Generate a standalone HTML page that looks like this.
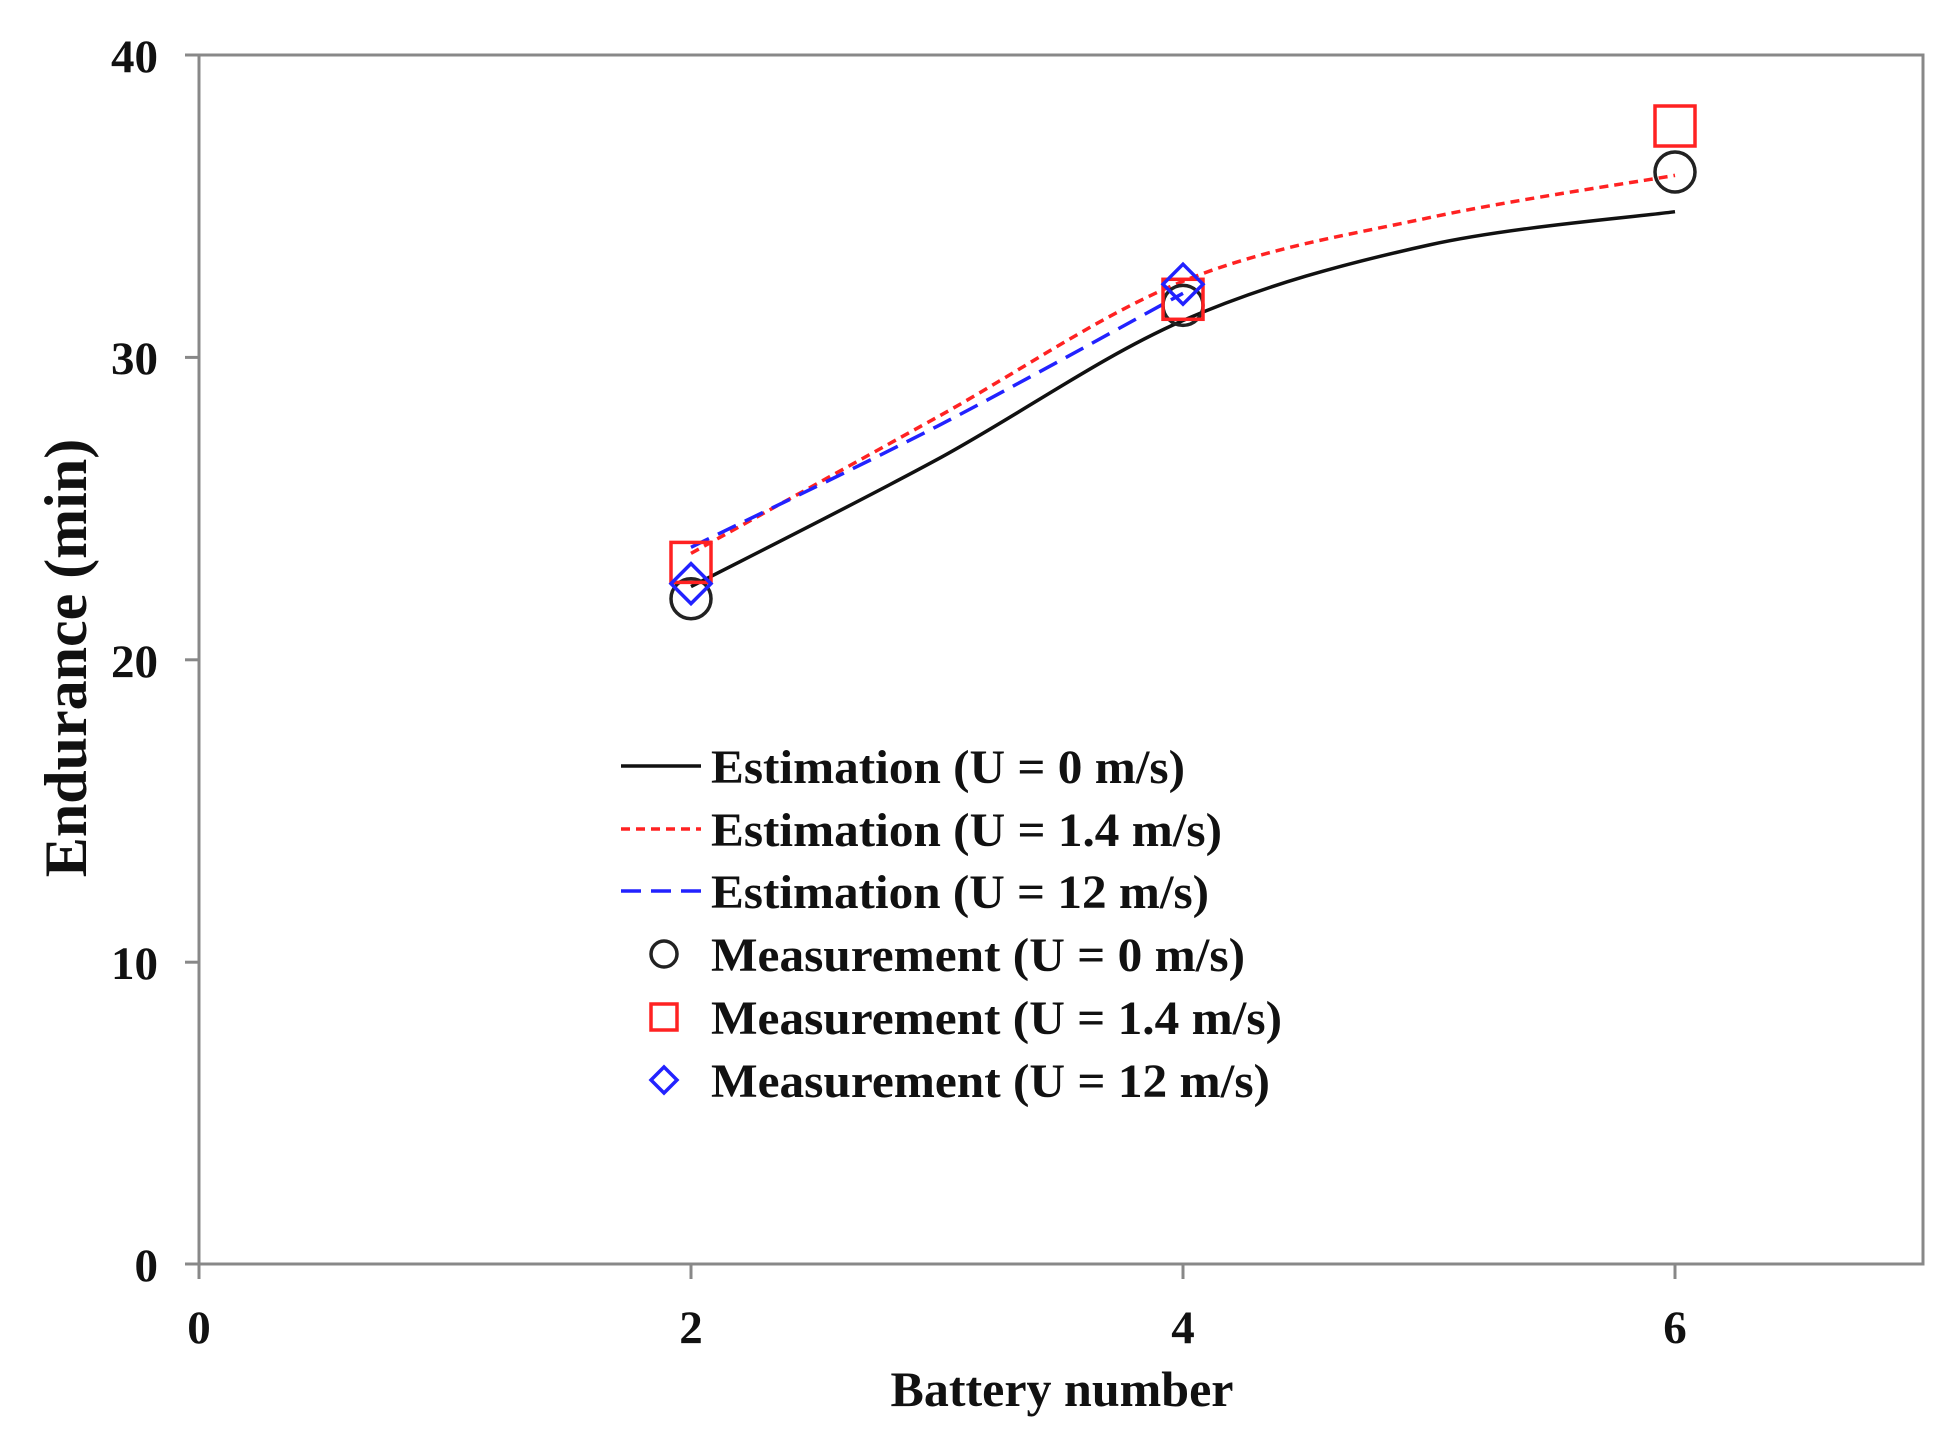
<!DOCTYPE html>
<html><head><meta charset="utf-8"><style>
body{margin:0;background:#fff}
svg{display:block}
text{font-family:"Liberation Serif",serif;font-weight:bold;fill:#111}
</style></head><body>
<svg width="1947" height="1440" viewBox="0 0 1947 1440" xmlns="http://www.w3.org/2000/svg">
<rect x="199" y="55" width="1724" height="1209" fill="none" stroke="#888" stroke-width="3"/>
<g stroke="#888" stroke-width="3">
<line x1="185" y1="55" x2="199" y2="55"/><line x1="185" y1="357.4" x2="199" y2="357.4"/>
<line x1="185" y1="659.8" x2="199" y2="659.8"/><line x1="185" y1="962.2" x2="199" y2="962.2"/>
<line x1="185" y1="1264" x2="199" y2="1264"/>
<line x1="199" y1="1264" x2="199" y2="1279"/><line x1="691" y1="1264" x2="691" y2="1279"/>
<line x1="1183" y1="1264" x2="1183" y2="1279"/><line x1="1675" y1="1264" x2="1675" y2="1279"/>
</g>
<g font-size="47" text-anchor="end">
<text x="158" y="72">40</text><text x="158" y="374">30</text><text x="158" y="677">20</text>
<text x="158" y="979">10</text><text x="158" y="1281">0</text>
</g>
<g font-size="47" text-anchor="middle">
<text x="199" y="1343">0</text><text x="691" y="1343">2</text><text x="1183" y="1343">4</text><text x="1675" y="1343">6</text>
<text x="1062" y="1406" font-size="50">Battery number</text>
<text transform="translate(86,658) rotate(-90)" font-size="60">Endurance (min)</text>
</g>
<path d="M691,586.6 C732,565.4 855,504 937,459.6 C1019,415.2 1101,356.3 1183,320.5 C1265,284.7 1347,263.1 1429,245 C1511,226.9 1634,217.3 1675,211.7" fill="none" stroke="#111" stroke-width="3.5"/>
<path d="M691,553.4 C732,530.7 855,462.7 937,417.3 C1019,371.9 1101,314.5 1183,281.2 C1265,247.9 1347,235.3 1429,217.7 C1511,200.1 1634,182.4 1675,175.4" fill="none" stroke="#f22" stroke-width="3.5" stroke-dasharray="9,6"/>
<path d="M691,547.3 C732,527.1 855,468.7 937,426.4 C1019,384.1 1142,315.5 1183,293.3" fill="none" stroke="#22f" stroke-width="3.5" stroke-dasharray="20,10"/>
<g fill="none" stroke-width="3.5">
<circle cx="691" cy="598.7" r="20" stroke="#222"/>
<circle cx="1183" cy="305.4" r="20" stroke="#222"/>
<circle cx="1675" cy="172" r="20" stroke="#222"/>
<rect x="671" y="542.4" width="40" height="40" stroke="#f22"/>
<rect x="1163" y="279.3" width="40" height="40" stroke="#f22"/>
<rect x="1655" y="106" width="40" height="40" stroke="#f22"/>
<path d="M691,563.6 L711,583.6 L691,603.6 L671,583.6 Z" stroke="#22f"/>
<path d="M1183,264.2 L1203,284.2 L1183,304.2 L1163,284.2 Z" stroke="#22f"/>
</g>
<g stroke-width="3.5" fill="none">
<line x1="621" y1="766" x2="701" y2="766" stroke="#111"/>
<line x1="621" y1="829" x2="701" y2="829" stroke="#f22" stroke-dasharray="9,6"/>
<line x1="621" y1="891" x2="701" y2="891" stroke="#22f" stroke-dasharray="20,10"/>
<circle cx="664" cy="954" r="13" stroke="#222"/>
<rect x="651" y="1004" width="26" height="26" stroke="#f22"/>
<path d="M664,1067 L677,1080 L664,1093 L651,1080 Z" stroke="#22f"/>
</g>
<g font-size="48">
<text x="711" y="783" textLength="474" lengthAdjust="spacingAndGlyphs">Estimation (U = 0 m/s)</text>
<text x="711" y="846" textLength="511" lengthAdjust="spacingAndGlyphs">Estimation (U = 1.4 m/s)</text>
<text x="711" y="908" textLength="498" lengthAdjust="spacingAndGlyphs">Estimation (U = 12 m/s)</text>
<text x="711" y="971" textLength="534" lengthAdjust="spacingAndGlyphs">Measurement (U = 0 m/s)</text>
<text x="711" y="1034" textLength="571" lengthAdjust="spacingAndGlyphs">Measurement (U = 1.4 m/s)</text>
<text x="711" y="1097" textLength="559" lengthAdjust="spacingAndGlyphs">Measurement (U = 12 m/s)</text>
</g>
</svg>
</body></html>
